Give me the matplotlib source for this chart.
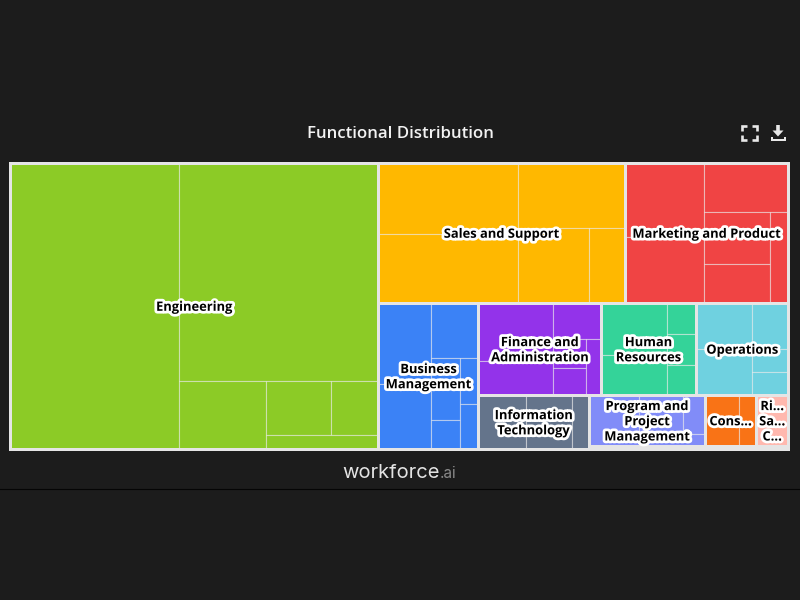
from __future__ import annotations

import matplotlib
matplotlib.use("Agg")
import matplotlib.patheffects as pe
import matplotlib.pyplot as plt
from matplotlib.patches import Polygon, Rectangle

# values (tile areas, so only the proportions mean anything)
group_names = [
    "Engineering", "Sales and Support", "Marketing and Product",
    "Business\nManagement", "Finance and\nAdministration", "Human\nResources",
    "Operations", "Information\nTechnology", "Program and\nProject\nManagement",
    "Cons...", "Ri...\nSa...\nC...", "",
]
group_colors = [
    "#8ccb26", "#ffb800", "#f04444", "#3b82f6", "#9333ea", "#34d399",
    "#6fd1e0", "#64748b", "#818cf8", "#f97316", "#ffb8ae", "#e5e5e5",
]
engineering = [47980, 43320, 5940, 3510, 2590, 1525]
sales = [9900, 9550, 6900, 5290, 2660]
marketing = [5850, 5175, 4100, 3460, 2595, 1640]
business = [4280, 3390, 2610, 1790, 850, 840, 820]
finance = [4310, 2590, 1710, 940, 905, 812]
human_resources = [3430, 2630, 900, 890, 880]
operations = [2576, 2570, 1688, 840, 835]
information_tech = [2530, 2510, 880]
program = [2525, 1716, 830, 820]
consulting = [1707, 868]
risk = [1641]
other = [600]
group_leaves = [
    engineering, sales, marketing, business, finance, human_resources,
    operations, information_tech, program, consulting, risk, other,
]

BG = "#1c1c1c"
BORDER = "#e5e5e5"
PLOT = (10.2, 163.2, 778.2, 285.8)


def aspect(a: float, b: float) -> float:
    return max(a / b, b / a)


def squarify(values: list[float], x: float, y: float, w: float, h: float) -> list[tuple]:
    # strips of tiles, the direction flips after every strip
    unit = w * h / sum(values)
    rects = []
    strip = []
    vertical = True

    def flush() -> None:
        nonlocal x, y, w, h, vertical
        side = h if vertical else w
        thick = sum(strip) / side
        offset = 0.0
        for area in strip:
            length = area / thick
            if vertical:
                rects.append((x, y + offset, thick, length))
            else:
                rects.append((x + offset, y, length, thick))
            offset += length
        if vertical:
            x += thick
            w -= thick
        else:
            y += thick
            h -= thick
        vertical = not vertical
        strip.clear()

    for value in values:
        area = value * unit
        if strip:
            side = h if vertical else w
            last = strip[-1]
            old = sum(strip) / side
            new = (sum(strip) + area) / side
            if aspect(new, last / new) > aspect(old, last / old):
                flush()
        strip.append(area)
    flush()
    return rects


def draw_icons(ax: plt.Axes) -> None:
    color = "#e8e8e8"
    for cx, cy, dx, dy in [(742, 126, 1, 1), (757, 126, -1, 1), (742, 140, 1, -1), (757, 140, -1, -1)]:
        ax.plot([cx, cx, cx + 5 * dx], [cy + 5 * dy, cy, cy], color=color, lw=1.9, solid_joinstyle="miter", solid_capstyle="butt")
    ax.plot([778, 778], [125, 133], color=color, lw=2.6, solid_capstyle="butt")
    ax.add_patch(Polygon([(772.5, 130.5), (783.5, 130.5), (778, 136.5)], color=color, lw=0))
    ax.add_patch(Polygon([(770.5, 137), (772.5, 137), (772.5, 138.5), (783.5, 138.5), (783.5, 137), (785.5, 137), (785.5, 140.8), (770.5, 140.8)], color=color, lw=0))


def main() -> None:
    fig = plt.figure(figsize=(8, 6), dpi=100, facecolor=BG)
    ax = fig.add_axes([0, 0, 1, 1])
    ax.set_xlim(0, 800)
    ax.set_ylim(600, 0)
    ax.axis("off")

    totals = [sum(leaves) for leaves in group_leaves]
    boxes = squarify(totals, *PLOT)
    for box, leaves, color in zip(boxes, group_leaves, group_colors):
        for rect in squarify(leaves, *box):
            ax.add_patch(Rectangle(rect[:2], rect[2], rect[3], facecolor=color, edgecolor=(1, 1, 1, 0.5), linewidth=0.8))
    for box in boxes:
        ax.add_patch(Rectangle(box[:2], box[2], box[3], facecolor="none", edgecolor=BORDER, linewidth=2.16))

    for box, name in zip(boxes, group_names):
        if not name:
            continue
        ax.text(
            box[0] + box[2] / 2, box[1] + box[3] / 2 + 1.2, name,
            ha="center", va="center", ma="center", color="#000000",
            fontfamily="Open Sans", fontweight="bold", fontsize=9.3, linespacing=1.22,
            path_effects=[pe.withStroke(linewidth=4.0, foreground="white")],
        )

    ax.text(400.5, 133.5, "Functional Distribution", ha="center", va="center", color="#f2f2f2",
            fontfamily="Open Sans", fontweight="semibold", fontsize=12.1)
    draw_icons(ax)

    ax.text(440, 478, "workforce", ha="right", va="baseline", color="#e4e4e4", fontfamily="Inter", fontsize=14.5)
    ax.text(440, 478, ".ai", ha="left", va="baseline", color="#8a8a8a", fontfamily="Inter", fontsize=11)
    ax.plot([0, 800], [489, 489], color="#050505", lw=0.8)

    fig.savefig("out.png", dpi=100, facecolor=BG)
    plt.close(fig)


if __name__ == "__main__":
    main()
